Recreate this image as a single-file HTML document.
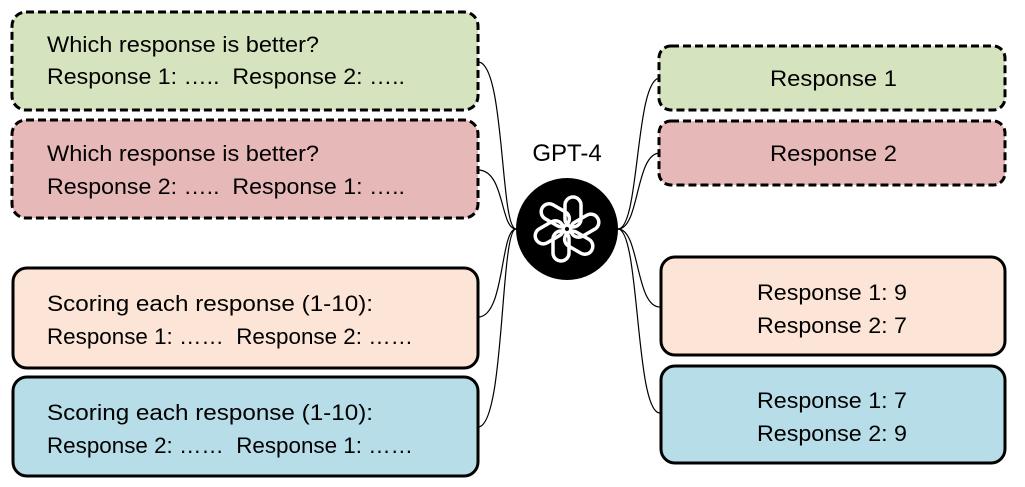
<!DOCTYPE html>
<html><head><meta charset="utf-8"><style>
html,body{margin:0;padding:0;background:#fff;}
svg{display:block;font-family:"Liberation Sans",sans-serif;}
text{font-size:22px;fill:#000;}
</style></head><body>
<svg width="1025" height="487" viewBox="0 0 1025 487">
<g fill="none" stroke="#000" stroke-width="1.2">
<path d="M478,62 C505,62 500,229 516,229"/>
<path d="M478,170 C505,170 500,229 516,229"/>
<path d="M478,317 C505,317 500,229 516,229"/>
<path d="M478,427 C505,427 500,229 516,229"/>
<path d="M618,229 C640,229 635,78 660,78"/>
<path d="M618,229 C640,229 635,153 660,153"/>
<path d="M618,229 C640,229 635,307 660,307"/>
<path d="M618,229 C640,229 635,413 660,413"/>
</g>
<g>
<rect x="12" y="12" width="466" height="98" rx="14" fill="#d6e3bf" stroke="#000" stroke-width="3" stroke-dasharray="8,4"/>
<text x="47" y="52" textLength="272" lengthAdjust="spacingAndGlyphs">Which response is better?</text>
<text x="47" y="84" textLength="358" lengthAdjust="spacingAndGlyphs" xml:space="preserve">Response 1: …..  Response 2: …..</text>
</g>
<g>
<rect x="12" y="120" width="466" height="98" rx="14" fill="#e6b8b7" stroke="#000" stroke-width="3" stroke-dasharray="8,4"/>
<text x="47" y="161" textLength="272" lengthAdjust="spacingAndGlyphs">Which response is better?</text>
<text x="47" y="194" textLength="358" lengthAdjust="spacingAndGlyphs" xml:space="preserve">Response 2: …..  Response 1: …..</text>
</g>
<g>
<rect x="13" y="268" width="465" height="100" rx="14" fill="#fce5d6" stroke="#000" stroke-width="3"/>
<text x="47" y="311" textLength="326" lengthAdjust="spacingAndGlyphs">Scoring each response (1-10):</text>
<text x="47" y="344" textLength="366" lengthAdjust="spacingAndGlyphs" xml:space="preserve">Response 1: ……  Response 2: ……</text>
</g>
<g>
<rect x="13" y="377" width="465" height="99" rx="14" fill="#b7dde8" stroke="#000" stroke-width="3"/>
<text x="47" y="420" textLength="326" lengthAdjust="spacingAndGlyphs">Scoring each response (1-10):</text>
<text x="47" y="453" textLength="366" lengthAdjust="spacingAndGlyphs" xml:space="preserve">Response 2: ……  Response 1: ……</text>
</g>
<text x="567" y="161" text-anchor="middle" style="font-size:24px">GPT-4</text>
<g>
<circle cx="567" cy="229" r="51" fill="#000"/>
<g fill="none" stroke="#fff" stroke-width="3.5" transform="translate(567,229)">
<g id="pet"><rect x="-2" y="-32" width="16" height="30" rx="8"/></g>
<use href="#pet" transform="rotate(60)"/>
<use href="#pet" transform="rotate(120)"/>
<use href="#pet" transform="rotate(180)"/>
<use href="#pet" transform="rotate(240)"/>
<use href="#pet" transform="rotate(300)"/>
</g>
</g>
<g>
<rect x="659" y="46" width="346" height="64" rx="12" fill="#d6e3bf" stroke="#000" stroke-width="3" stroke-dasharray="8,4"/>
<text x="770" y="86" textLength="127" lengthAdjust="spacingAndGlyphs">Response 1</text>
</g>
<g>
<rect x="659" y="121" width="346" height="64" rx="12" fill="#e6b8b7" stroke="#000" stroke-width="3" stroke-dasharray="8,4"/>
<text x="770" y="161" textLength="127" lengthAdjust="spacingAndGlyphs">Response 2</text>
</g>
<g>
<rect x="661" y="257" width="344" height="98" rx="14" fill="#fce5d6" stroke="#000" stroke-width="3"/>
<text x="757" y="300" textLength="150" lengthAdjust="spacingAndGlyphs">Response 1: 9</text>
<text x="757" y="333" textLength="150" lengthAdjust="spacingAndGlyphs">Response 2: 7</text>
</g>
<g>
<rect x="661" y="366" width="344" height="97" rx="14" fill="#b7dde8" stroke="#000" stroke-width="3"/>
<text x="757" y="408" textLength="150" lengthAdjust="spacingAndGlyphs">Response 1: 7</text>
<text x="757" y="441" textLength="150" lengthAdjust="spacingAndGlyphs">Response 2: 9</text>
</g>
</svg>
</body></html>
